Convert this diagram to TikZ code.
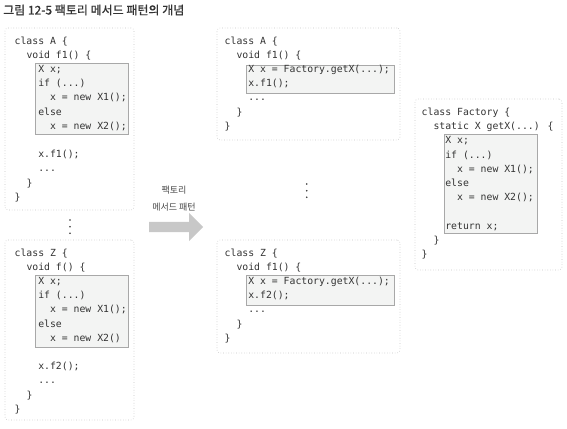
\documentclass[tikz,border=0pt]{standalone}
\usepackage{fontspec}
\setmainfont{Noto Sans CJK KR}
\newfontfamily\codefont{DejaVu Sans Mono}
\newfontfamily\krfont{Noto Sans CJK KR}
\newfontfamily\krtitlefont[FakeBold=0.7]{Noto Sans CJK KR}
\usetikzlibrary{fit,shapes.arrows}
\definecolor{txt}{HTML}{333333}
\definecolor{outerc}{HTML}{C4C4C4}
\definecolor{innerfill}{HTML}{F3F4F3}
\definecolor{innerdraw}{HTML}{A8A8A8}
\definecolor{arrowc}{HTML}{C8C8C8}
\tikzset{
  outerbox/.style={draw=outerc, dotted, rounded corners=3pt, inner sep=0pt, line width=0.6pt},
  innerbox/.style={draw=innerdraw, fill=innerfill, inner sep=0pt, line width=0.6pt},
  code/.style={anchor=base west, inner sep=0pt, align=left, text=txt,
    font=\codefont\fontsize{9.8}{14.2}\selectfont},
  dotc/.style={fill=txt, circle, inner sep=0pt, minimum size=1.7pt},
}
\begin{document}
\begin{tikzpicture}[x=1pt,y=-1pt]
\useasboundingbox[fill=white] (0,0) rectangle (567,428);
% title
\node[anchor=base west, inner sep=0pt, text=txt, font=\krtitlefont\fontsize{12}{14}\selectfont] (title) at (3,14.5) {그림 12-5 팩토리 메서드 패턴의 개념};
% outer boxes
\node[outerbox, fit={(5,28) (134,210)}] (boxA) {};
\node[outerbox, fit={(5,240) (134,420)}] (boxZ) {};
\node[outerbox, fit={(217,28) (400,140)}] (boxA2) {};
\node[outerbox, fit={(217,240) (400,353)}] (boxZ2) {};
\node[outerbox, fit={(415,99) (562,270)}] (boxF) {};
% inner boxes
\node[innerbox, fit={(35,63) (128,134)}] (inA) {};
\node[innerbox, fit={(35,275) (128,347)}] (inZ) {};
\node[innerbox, fit={(246,65) (394,93)}] (inA2) {};
\node[innerbox, fit={(246,275) (394,305)}] (inZ2) {};
\node[innerbox, fit={(444,134) (537,233)}] (inF) {};
% code (anchor = baseline of the last line)
\node[code] (codeA) at (14.5,200.2) {class A \{\\
\ \ void f1() \{\\
\ \ \ \ X x;\\
\ \ \ \ if (...)\\
\ \ \ \ \ \ x = new X1();\\
\ \ \ \ else\\
\ \ \ \ \ \ x = new X2();\\
\mbox{}\\
\ \ \ \ x.f1();\\
\ \ \ \ ...\\
\ \ \}\\
\}};
\node[code] (codeZ) at (14.5,412.2) {class Z \{\\
\ \ void f() \{\\
\ \ \ \ X x;\\
\ \ \ \ if (...)\\
\ \ \ \ \ \ x = new X1();\\
\ \ \ \ else\\
\ \ \ \ \ \ x = new X2()\\
\mbox{}\\
\ \ \ \ x.f2();\\
\ \ \ \ ...\\
\ \ \}\\
\}};
\node[code] (codeA2) at (224.5,129.2) {class A \{\\
\ \ void f1() \{\\
\ \ \ \ X x = Factory.getX(...);\\
\ \ \ \ x.f1();\\
\ \ \ \ ...\\
\ \ \}\\
\}};
\node[code] (codeZ2) at (224.5,341.2) {class Z \{\\
\ \ void f1() \{\\
\ \ \ \ X x = Factory.getX(...);\\
\ \ \ \ x.f2();\\
\ \ \ \ ...\\
\ \ \}\\
\}};
\node[code] (codeF) at (421.5,257.5) {class Factory \{\\
\ \ static X getX(...) \{\\
\ \ \ \ X x;\\
\ \ \ \ if (...)\\
\ \ \ \ \ \ x = new X1();\\
\ \ \ \ else\\
\ \ \ \ \ \ x = new X2();\\
\mbox{}\\
\ \ \ \ return x;\\
\ \ \}\\
\}};
% vertical dots
\node[dotc] (dl1) at (70,220) {};
\node[dotc] (dl2) at (70,226.7) {};
\node[dotc] (dl3) at (70,233.3) {};
\node[dotc] (dm1) at (306.7,184) {};
\node[dotc] (dm2) at (306.7,190.7) {};
\node[dotc] (dm3) at (306.7,197.3) {};
% arrow
\node[single arrow, fill=arrowc, draw=none, inner sep=5pt, minimum height=54pt,
  single arrow head extend=9pt, anchor=tail] (arrow) at (149,227) {};
\node[align=center, inner sep=0pt, text=txt!90, font=\krfont\fontsize{9}{17.5}\selectfont, anchor=base] (arrowlbl) at (174,210.5) {팩토리\\메서드 패턴};
\end{tikzpicture}
\end{document}
